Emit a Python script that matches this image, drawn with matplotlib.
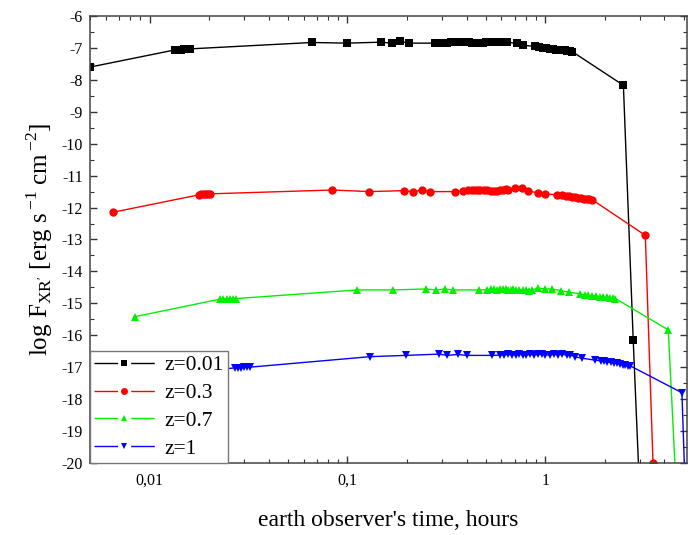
import matplotlib
matplotlib.use('Agg')
import matplotlib.pyplot as plt
from matplotlib.lines import Line2D
from matplotlib.ticker import LogLocator, NullFormatter, MultipleLocator

plt.rcParams['font.family'] = ['Liberation Serif', 'DejaVu Serif']
plt.rcParams['mathtext.fontset'] = 'custom'
plt.rcParams['mathtext.rm'] = 'Liberation Serif'
plt.rcParams['axes.unicode_minus'] = False

# light curves, time in hours
t_z001 = [0.005, 0.0135, 0.014, 0.0145, 0.015, 0.0155, 0.016, 0.066, 0.1, 0.148,
          0.167, 0.185, 0.204, 0.278, 0.305, 0.32, 0.335, 0.35, 0.365, 0.38, 0.395,
          0.41, 0.425, 0.44, 0.455, 0.47, 0.485, 0.5, 0.515, 0.54, 0.56, 0.58, 0.6,
          0.62, 0.64, 0.72, 0.77, 0.89, 0.93, 0.97, 1.01, 1.05, 1.09, 1.13, 1.17,
          1.21, 1.25, 1.29, 1.33, 1.37, 2.48, 2.78, 3.0]
f_z001 = [-7.6, -7.06, -7.05, -7.05, -7.04, -7.04, -7.03, -6.83, -6.85, -6.82,
          -6.85, -6.79, -6.85, -6.85, -6.85, -6.84, -6.83, -6.82, -6.82, -6.83, -6.82,
          -6.83, -6.84, -6.84, -6.85, -6.84, -6.84, -6.83, -6.82, -6.81, -6.8, -6.8, -6.81,
          -6.81, -6.82, -6.86, -6.92, -6.95, -6.97, -6.99, -7.0, -7.02, -7.03, -7.05, -7.06,
          -7.07, -7.08, -7.1, -7.11, -7.12, -8.17, -16.15, -21.0]

t_z03 = [0.0065, 0.0178, 0.0183, 0.0188, 0.0193, 0.0198, 0.0203, 0.084, 0.129, 0.192,
         0.215, 0.239, 0.26, 0.351, 0.385, 0.408, 0.425, 0.44, 0.455, 0.47, 0.49,
         0.51, 0.53, 0.55, 0.57, 0.59, 0.61, 0.63, 0.65, 0.705, 0.765, 0.82, 0.92,
         1.0, 1.15, 1.22, 1.27, 1.32, 1.37, 1.42, 1.47, 1.52, 1.57, 1.62, 1.67, 1.73,
         3.2, 3.5]
f_z03 = [-12.15, -11.6, -11.59, -11.59, -11.58, -11.58, -11.57, -11.45, -11.5, -11.47,
         -11.5, -11.45, -11.5, -11.5, -11.48, -11.46, -11.45, -11.44, -11.46, -11.45, -11.44,
         -11.46, -11.47, -11.48, -11.47, -11.46, -11.44, -11.43, -11.45, -11.4, -11.4, -11.47, -11.55,
         -11.57, -11.6, -11.62, -11.63, -11.65, -11.66, -11.68, -11.69, -11.7, -11.72, -11.73, -11.74, -11.76,
         -12.87, -20.0]

t_z07 = [0.0084, 0.0226, 0.0235, 0.0245, 0.0255, 0.0265, 0.0275, 0.112, 0.169, 0.25,
         0.28, 0.31, 0.34, 0.46, 0.51, 0.53, 0.55, 0.57, 0.59, 0.61, 0.63, 0.65,
         0.67, 0.69, 0.71, 0.74, 0.77, 0.8, 0.83, 0.86, 0.92, 1.0, 1.08, 1.2, 1.31,
         1.5, 1.58, 1.65, 1.72, 1.8, 1.88, 1.96, 2.04, 2.12, 2.2, 2.26, 4.18, 4.6]
f_z07 = [-15.42, -14.87, -14.86, -14.86, -14.85, -14.85, -14.85, -14.58, -14.58, -14.55,
         -14.58, -14.55, -14.58, -14.58, -14.57, -14.55, -14.56, -14.57, -14.55, -14.56, -14.55, -14.57,
         -14.58, -14.56, -14.57, -14.58, -14.57, -14.59, -14.6, -14.58, -14.52, -14.55, -14.55, -14.6, -14.65,
         -14.7, -14.74, -14.75, -14.76, -14.77, -14.79, -14.8, -14.81, -14.82, -14.84, -14.85, -15.83, -21.0]

t_z1 = [0.0084, 0.027, 0.028, 0.029, 0.03, 0.031, 0.032, 0.13, 0.197, 0.29,
        0.32, 0.36, 0.4, 0.54, 0.59, 0.62, 0.65, 0.68, 0.71, 0.74, 0.77, 0.8,
        0.84, 0.88, 0.92, 0.96, 1.0, 1.05, 1.1, 1.16, 1.22, 1.28, 1.34, 1.42, 1.54,
        1.79, 1.9, 1.98, 2.06, 2.14, 2.22, 2.3, 2.38, 2.46, 2.54, 2.62, 2.69, 4.9, 5.1]
f_z1 = [-17.35, -17.02, -17.01, -17.01, -17.0, -17.0, -17.0, -16.67, -16.63, -16.59,
        -16.63, -16.6, -16.63, -16.63, -16.62, -16.61, -16.6, -16.61, -16.62, -16.6, -16.61, -16.62,
        -16.6, -16.61, -16.6, -16.6, -16.61, -16.62, -16.6, -16.61, -16.6, -16.61, -16.62, -16.68, -16.72,
        -16.78, -16.8, -16.82, -16.84, -16.85, -16.87, -16.88, -16.9, -16.92, -16.93, -16.95, -16.96, -17.8, -21.0]

labels = ['z=0.01', 'z=0.3', 'z=0.7', 'z=1']
colors = ['black', '#ff0000', '#00f000', '#0000ff']
markers = ['s', 'o', '^', 'v']
msizes = [5.5, 6, 6, 6]

fig = plt.figure(figsize=(6.9, 5.35), dpi=100)
ax = fig.add_axes([0.1304, 0.1346, 0.8653, 0.8355])

series = [(t_z001, f_z001), (t_z03, f_z03), (t_z07, f_z07), (t_z1, f_z1)]
for (t, f), c, m, ms in zip(series, colors, markers, msizes):
    ax.plot(t, f, color=c, marker=m, markersize=ms, linewidth=1.0,
            markeredgewidth=0)

ax.set_xscale('log')
ax.set_xlim(0.005, 5.2)
ax.set_ylim(-20, -6)

ax.set_xticks([0.01, 0.1, 1])
ax.set_xticklabels(['0,01', '0,1', '1'])
ax.xaxis.set_minor_locator(LogLocator(base=10, subs=range(2, 10)))
ax.xaxis.set_minor_formatter(NullFormatter())
ax.set_yticks(range(-20, -5))
ax.set_yticklabels([str(v) for v in range(-20, -5)])
ax.yaxis.set_minor_locator(MultipleLocator(0.5))

ax.tick_params(which='both', direction='in', top=True, right=True,
               colors='#333333', labelcolor='black', labelsize=11.5)
ax.tick_params(which='major', length=5, width=1.0)
ax.tick_params(which='minor', length=3, width=0.8)
ax.tick_params(axis='x', pad=7)
ax.tick_params(axis='y', pad=5)
for sp in ax.spines.values():
    sp.set_color('#444444')
    sp.set_linewidth(1.1)

ax.set_xlabel("earth observer's time, hours", fontsize=17, labelpad=15)
ax.set_ylabel(r"log F$_{\mathrm{XR'}}$ [erg s$^{\,\mathrm{-1}}$ cm$^{\,\mathrm{-2}}$]",
              fontsize=18, labelpad=5)

# legend handles with the line broken around the marker
handles = [Line2D([], [], color=c, marker=m, markersize=ms - 1, markeredgewidth=0,
                  linewidth=1.0, linestyle=(0, (17.0, 9.4)))
           for c, m, ms in zip(colors, markers, msizes)]
leg = ax.legend(handles, labels, loc='lower left', borderaxespad=0,
                fontsize=15.5, handlelength=2.8, handletextpad=0.45,
                labelspacing=0.36, borderpad=0.2, fancybox=False,
                framealpha=1, edgecolor='#777777')
leg.get_frame().set_linewidth(1.0)

fig.savefig('out.png', dpi=100)
